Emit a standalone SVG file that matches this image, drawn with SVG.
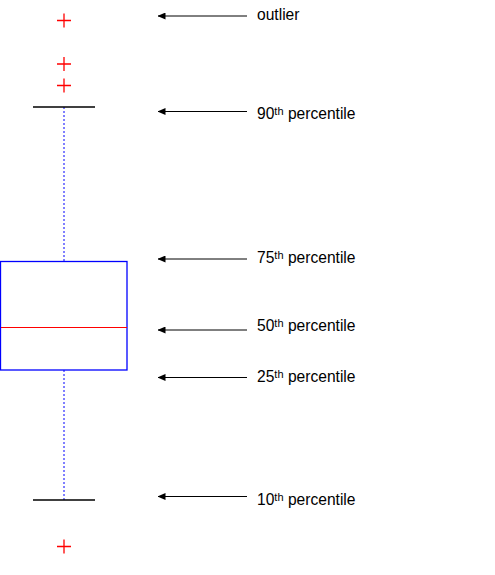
<svg xmlns="http://www.w3.org/2000/svg" width="495" height="575" viewBox="0 0 495 575">
<style>
.lbl{font-family:"Liberation Sans",Arial,sans-serif;font-size:15.6px;fill:#000}
.sup{font-size:11px}
.out{stroke:#ff0000;stroke-width:1.3;fill:none}
.cap{stroke:#000;stroke-width:1.3}
.wh{stroke:#0000ff;stroke-width:1;stroke-dasharray:2,2}
.arr{stroke:#000;stroke-width:1;marker-end:url(#ah)}
</style>
<defs>
<marker id="ah" markerWidth="8" markerHeight="7" refX="7.5" refY="3.5" orient="auto" markerUnits="userSpaceOnUse">
<path d="M0,0 L8,3.5 L0,7 Z" fill="#000"/>
</marker>
</defs>
<rect width="495" height="575" fill="#fff"/>
<g id="boxplot">
<g id="outliers-top">
<path class="out" d="M57,20.5H71M64,13.5V27.5"/>
<path class="out" d="M57,64H71M64,57V71"/>
<path class="out" d="M57,85.5H71M64,78.5V92.5"/>
</g>
<g id="upper-whisker">
<line class="wh" x1="64" y1="107" x2="64" y2="261"/>
<line class="cap" x1="33" y1="107" x2="95" y2="107"/>
</g>
<g id="box">
<rect x="0.5" y="261.5" width="126.5" height="108.5" fill="none" stroke="#0000ff" stroke-width="1.3"/>
<line x1="1" y1="327.5" x2="127" y2="327.5" stroke="#ff0000" stroke-width="1.2"/>
</g>
<g id="lower-whisker">
<line class="wh" x1="64" y1="370" x2="64" y2="500"/>
<line class="cap" x1="33" y1="500" x2="95" y2="500"/>
</g>
<g id="outlier-bottom">
<path class="out" d="M57,546.5H71M64,539.5V553.5"/>
</g>
</g>
<g id="connectors">
<line class="arr" x1="247" y1="16" x2="158" y2="16"/>
<line class="arr" x1="247" y1="111.5" x2="158" y2="111.5"/>
<line class="arr" x1="247" y1="259" x2="158" y2="259"/>
<line class="arr" x1="247" y1="330" x2="158" y2="330"/>
<line class="arr" x1="247" y1="377.5" x2="158" y2="377.5"/>
<line class="arr" x1="247" y1="496.5" x2="158" y2="496.5"/>
</g>
<g id="labels">
<text id="l-outlier" class="lbl" x="257" y="20">outlier</text>
<text id="l-90" class="lbl" x="257" y="119">90<tspan class="sup" dy="-4">th</tspan><tspan dy="4"> percentile</tspan></text>
<text id="l-75" class="lbl" x="257" y="263">75<tspan class="sup" dy="-4">th</tspan><tspan dy="4"> percentile</tspan></text>
<text id="l-50" class="lbl" x="257" y="331">50<tspan class="sup" dy="-4">th</tspan><tspan dy="4"> percentile</tspan></text>
<text id="l-25" class="lbl" x="257" y="382">25<tspan class="sup" dy="-4">th</tspan><tspan dy="4"> percentile</tspan></text>
<text id="l-10" class="lbl" x="257" y="504.5">10<tspan class="sup" dy="-4">th</tspan><tspan dy="4"> percentile</tspan></text>
</g>
</svg>
